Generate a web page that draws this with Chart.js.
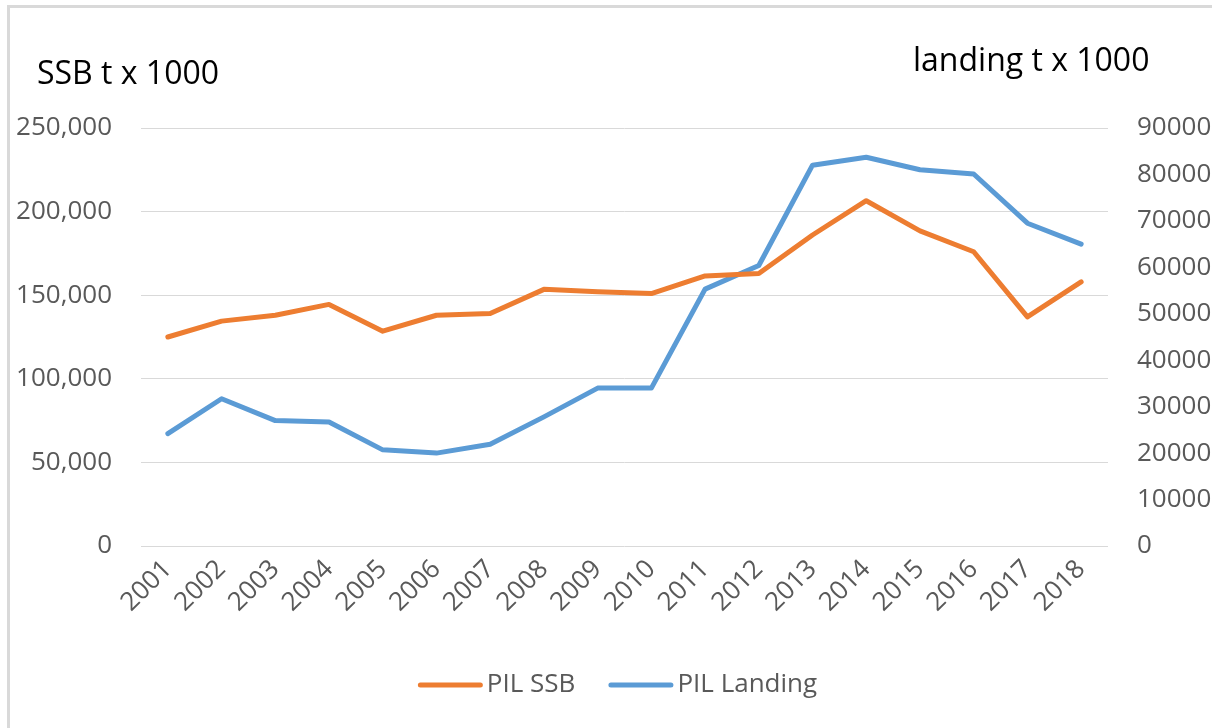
<!DOCTYPE html>
<html>
<head>
<meta charset="utf-8">
<script src="https://cdn.jsdelivr.net/npm/chart.js@4.4.1/dist/chart.umd.min.js"></script>
<style>
  html, body { margin: 0; padding: 0; background: #ffffff; }
  #wrap { position: relative; width: 1212px; height: 728px; overflow: hidden; }
  #frame { position: absolute; left: 7px; top: 5px; width: 1212px; height: 740px;
           border-top: 3px solid #d9d9d9; border-left: 3px solid #d9d9d9; box-sizing: border-box; }
  canvas { position: absolute; left: 0; top: 0; }
</style>
</head>
<body>
<div id="wrap">
  <div id="frame"></div>
  <canvas id="c" width="1212" height="728"></canvas>
</div>
<script>
const years = ['2001','2002','2003','2004','2005','2006','2007','2008','2009','2010','2011','2012','2013','2014','2015','2016','2017','2018'];
const pilSSB = [125000, 134500, 138000, 144500, 128500, 138000, 139000, 153500, 152000, 151000, 161500, 163000, 186000, 206500, 188500, 176000, 137000, 158000];
const pilLanding = [24200, 31700, 27000, 26700, 20700, 20000, 21900, 27800, 34000, 34000, 55300, 60400, 82000, 83700, 81000, 80100, 69500, 65000];
const leftTitle = 'SSB t x 1000';
const rightTitle = 'landing t x 1000';

const FONT = "'Open Sans', 'Liberation Sans', sans-serif";
const tickColor = '#595959';

const titlePlugin = {
  id: 'axisTitles',
  afterDraw(chart) {
    const ctx = chart.ctx;
    ctx.save();
    ctx.fillStyle = '#000000';
    ctx.font = "32px " + FONT;
    ctx.textBaseline = 'alphabetic';
    ctx.textAlign = 'left';
    ctx.fillText(leftTitle, 37, 84);
    ctx.fillText(rightTitle, 913, 71);
    ctx.restore();
  }
};

// legend drawn from the datasets' own labels and colours
const legendPlugin = {
  id: 'lineLegend',
  afterDraw(chart) {
    const ctx = chart.ctx;
    ctx.save();
    ctx.font = "26px " + FONT;
    ctx.textBaseline = 'middle';
    ctx.textAlign = 'left';
    const y = 685, lineLen = 65, gapText = 4, gapItem = 33;
    const items = chart.data.datasets.map(d => ({ text: d.label, color: d.borderColor }));
    const widths = items.map(it => lineLen + gapText + ctx.measureText(it.text).width);
    const total = widths.reduce((a, b) => a + b, 0) + gapItem * (items.length - 1);
    let x = (chart.chartArea.left + chart.chartArea.right) / 2 - 7 - total / 2;
    items.forEach((it, i) => {
      ctx.strokeStyle = it.color;
      ctx.lineWidth = 5;
      ctx.lineCap = 'round';
      ctx.beginPath();
      ctx.moveTo(x + 2.5, y);
      ctx.lineTo(x + lineLen - 2.5, y);
      ctx.stroke();
      ctx.fillStyle = tickColor;
      ctx.fillText(it.text, x + lineLen + gapText, y);
      x += widths[i] + gapItem;
    });
    ctx.restore();
  }
};

new Chart(document.getElementById('c'), {
  type: 'line',
  data: {
    labels: years,
    datasets: [
      { label: 'PIL SSB', data: pilSSB, yAxisID: 'y',
        borderColor: '#ED7D31', backgroundColor: '#ED7D31', borderWidth: 5,
        pointRadius: 0, tension: 0, borderCapStyle: 'round', borderJoinStyle: 'round' },
      { label: 'PIL Landing', data: pilLanding, yAxisID: 'y1',
        borderColor: '#5B9BD5', backgroundColor: '#5B9BD5', borderWidth: 5,
        pointRadius: 0, tension: 0, borderCapStyle: 'round', borderJoinStyle: 'round' }
    ]
  },
  options: {
    responsive: false,
    animation: false,
    devicePixelRatio: 1,
    layout: { padding: { top: 128, left: 0, right: 0, bottom: 82 } },
    plugins: {
      legend: { display: false },
      tooltip: { enabled: false }
    },
    scales: {
      x: {
        offset: true,
        grid: { display: false, drawTicks: false },
        border: { display: false },
        ticks: { color: tickColor, font: { family: FONT, size: 26 }, minRotation: 45, maxRotation: 45, padding: 8, autoSkip: false },
        afterFit(scale) { scale.height = 100; }
      },
      y: {
        position: 'left',
        min: 0, max: 250000,
        grid: { color: '#d9d9d9', lineWidth: 1, drawTicks: false },
        border: { display: false },
        ticks: { stepSize: 50000, color: tickColor, font: { family: FONT, size: 26 }, padding: 29,
                 callback: v => Number(v).toLocaleString('en-US') },
        afterFit(scale) { scale.width = 141; }
      },
      y1: {
        position: 'right',
        min: 0, max: 90000,
        grid: { display: false, drawTicks: false },
        border: { display: false },
        ticks: { stepSize: 10000, color: tickColor, font: { family: FONT, size: 26 }, padding: 29,
                 callback: v => String(v) },
        afterFit(scale) { scale.width = 104; }
      }
    }
  },
  plugins: [titlePlugin, legendPlugin]
});
</script>
</body>
</html>
